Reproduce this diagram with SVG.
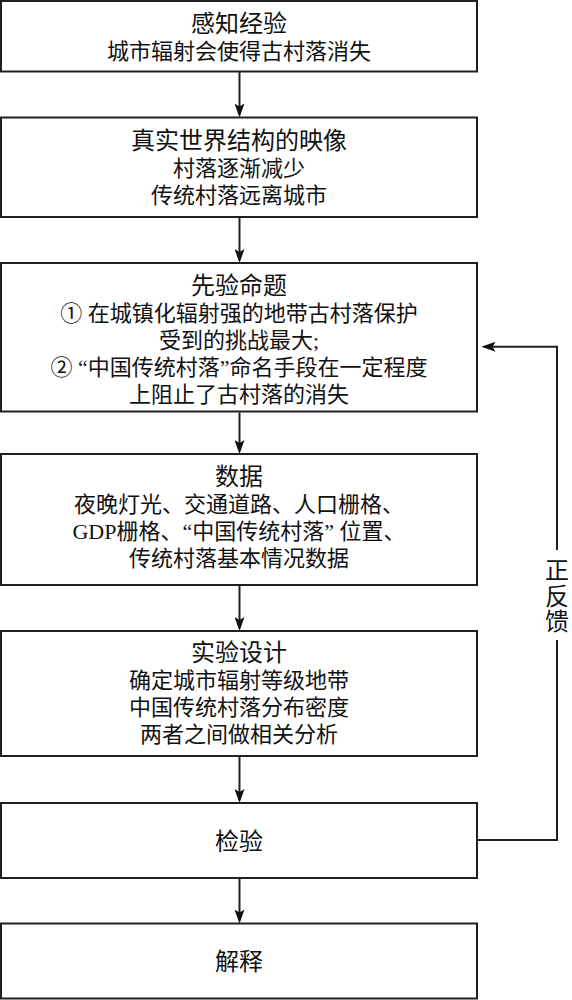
<svg xmlns="http://www.w3.org/2000/svg" width="572" height="1000" viewBox="0 0 572 1000">
<style>
.box{fill:#fff;stroke:#231f20;stroke-width:2}
.t{font-family:"Liberation Serif","Noto Sans CJK SC",serif;fill:#111;text-anchor:middle}
.h{font-size:24px}
.b{font-size:22px}
.c{fill:none;stroke:#231f20;stroke-width:2}
</style>
<defs>
<marker id="ah" viewBox="0 0 14 10" markerWidth="14" markerHeight="10" refX="11" refY="5" orient="auto" markerUnits="userSpaceOnUse">
<path d="M0,0 L14,5 L0,10 L3,5 Z" fill="#111"/>
</marker>
</defs>
<rect width="572" height="1000" fill="#fff"/>
<g id="connectors">
<line class="c" x1="239.5" y1="72" x2="239.5" y2="114.5" marker-end="url(#ah)"/>
<line class="c" x1="239.5" y1="218" x2="239.5" y2="260" marker-end="url(#ah)"/>
<line class="c" x1="239.5" y1="412.5" x2="239.5" y2="451" marker-end="url(#ah)"/>
<line class="c" x1="239.5" y1="585.5" x2="239.5" y2="628" marker-end="url(#ah)"/>
<line class="c" x1="239.5" y1="756.5" x2="239.5" y2="800" marker-end="url(#ah)"/>
<line class="c" x1="239.5" y1="878.5" x2="239.5" y2="920.5" marker-end="url(#ah)"/>
<path class="c" d="M477,840 H557 V640"/>
<path class="c" d="M557,550 V346.7 H484.5" marker-end="url(#ah)"/>
<g id="feedback-label" class="t h">
<text x="557" y="579.1">正</text>
<text x="557" y="604.6">反</text>
<text x="557" y="630.1">馈</text>
</g>
</g>
<g id="n1">
<rect class="box" x="1" y="1" width="476" height="70.5"/>
<text class="t h" x="239" y="32.1">感知经验</text>
<text class="t b" x="239" y="59.4">城市辐射会使得古村落消失</text>
</g>
<g id="n2">
<rect class="box" x="1" y="117.5" width="476" height="99.5"/>
<text class="t h" x="239" y="149.1">真实世界结构的映像</text>
<text class="t b" x="239" y="176.4">村落逐渐减少</text>
<text class="t b" x="239" y="203.4">传统村落远离城市</text>
</g>
<g id="n3">
<rect class="box" x="1" y="263" width="476" height="148.5"/>
<text class="t h" x="239" y="294.1">先验命题</text>
<text class="t b" x="239" y="321.4">① 在城镇化辐射强的地带古村落保护</text>
<text class="t b" x="239" y="348.4">受到的挑战最大;</text>
<text class="t b" x="239" y="375.4">② “中国传统村落”命名手段在一定程度</text>
<text class="t b" x="239" y="402.4">上阻止了古村落的消失</text>
</g>
<g id="n4">
<rect class="box" x="1" y="454" width="476" height="131"/>
<text class="t h" x="239" y="485.1">数据</text>
<text class="t b" x="239" y="512.4">夜晚灯光、交通道路、人口栅格、</text>
<text class="t b" x="239" y="539.4">GDP栅格、“中国传统村落” 位置、</text>
<text class="t b" x="239" y="566.4">传统村落基本情况数据</text>
</g>
<g id="n5">
<rect class="box" x="1" y="631" width="476" height="125"/>
<text class="t h" x="239" y="661.1">实验设计</text>
<text class="t b" x="239" y="688.4">确定城市辐射等级地带</text>
<text class="t b" x="239" y="715.4">中国传统村落分布密度</text>
<text class="t b" x="239" y="742.4">两者之间做相关分析</text>
</g>
<g id="n6">
<rect class="box" x="1" y="803" width="476" height="75"/>
<text class="t h" x="239" y="849.6">检验</text>
</g>
<g id="n7">
<rect class="box" x="1" y="923.5" width="476" height="75"/>
<text class="t h" x="239" y="970.1">解释</text>
</g>
</svg>
